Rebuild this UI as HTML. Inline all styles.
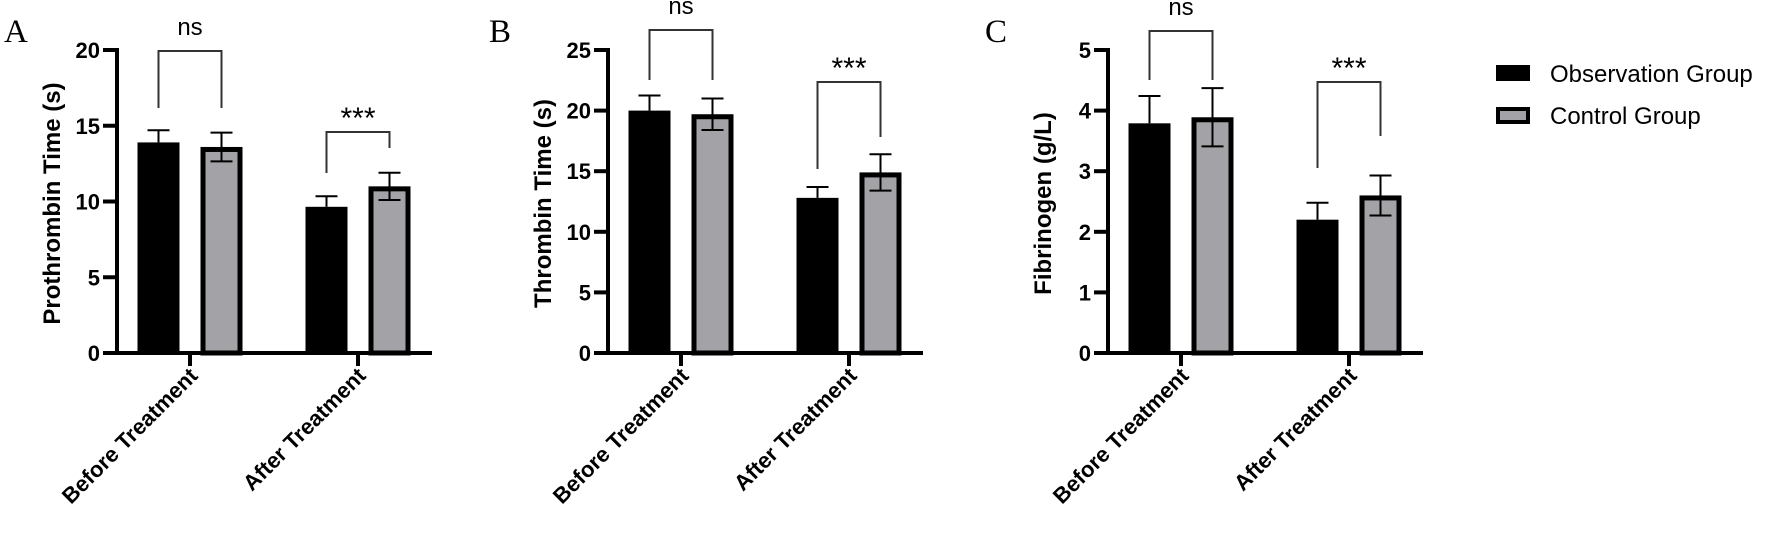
<!DOCTYPE html>
<html><head><meta charset="utf-8"><style>
html,body{margin:0;padding:0;background:#fff;}
svg{display:block;font-family:"Liberation Sans",Arial,sans-serif;}
</style></head><body>
<svg id="fig" width="1772" height="541" viewBox="0 0 1772 541" xmlns="http://www.w3.org/2000/svg">
<g id="legend">
  <g>
    <rect x="1496" y="65" width="34" height="16" fill="#000"/>
    <text x="1550" y="82" font-size="24">Observation Group</text>
  </g>
  <g>
    <rect x="1498" y="109" width="30" height="13" fill="#a3a3a7" stroke="#000" stroke-width="4"/>
    <text x="1550" y="124" font-size="24">Control Group</text>
  </g>
</g>
</svg>
<script>
const categories = ["Before Treatment", "After Treatment"];
const series = ["Observation Group", "Control Group"];
const ptObs = [13.9, 9.65];
const ptObsErr = [0.8, 0.7];
const ptCtrl = [13.6, 11.0];
const ptCtrlErr = [0.95, 0.9];
const ptTicks = [0, 5, 10, 15, 20];
const ttObs = [20.0, 12.8];
const ttObsErr = [1.25, 0.9];
const ttCtrl = [19.7, 14.9];
const ttCtrlErr = [1.3, 1.5];
const ttTicks = [0, 5, 10, 15, 20, 25];
const fibObs = [3.79, 2.2];
const fibObsErr = [0.45, 0.28];
const fibCtrl = [3.89, 2.6];
const fibCtrlErr = [0.48, 0.33];
const fibTicks = [0, 1, 2, 3, 4, 5];
const sigLabels = ["ns", "***"];

const NS = "http://www.w3.org/2000/svg";
const svg = document.getElementById('fig');
function mk(tag, attrs, parent, txt){
  const e = document.createElementNS(NS, tag);
  for (const k in attrs) e.setAttribute(k, attrs[k]);
  if (txt !== undefined) e.textContent = txt;
  parent.appendChild(e);
  return e;
}

function panel(cfg){
  const g = mk('g', {}, svg);
  
  
  const ax = cfg.axisX, y0 = 353, yTop = 50;
  const ymax = cfg.ticks[cfg.ticks.length-1];
  const yS = v => y0 - (v / ymax) * (y0 - yTop);
  const groupW = 168;
  const xC = i => ax + 73 + i * groupW;
  const barW = 42, off = 31.5;

  const letter = mk('text', {x: cfg.letterX, y: 42, 'font-size': 33, 'font-family': '"Liberation Serif",serif'}, g, cfg.letter);
  
  

  for (let i = 0; i < categories.length; i++){
    const vo = cfg.obs[i], vc = cfg.ctrl[i];
    const xo = xC(i) - off, xc = xC(i) + off;
    const eo = mk('g', {stroke: '#000', 'stroke-width': 2}, g);
    
    
    mk('line', {x1: xo, x2: xo, y1: yS(vo), y2: yS(vo + cfg.obsErr[i])}, eo);
    mk('line', {x1: xo - 11, x2: xo + 11, y1: yS(vo + cfg.obsErr[i]), y2: yS(vo + cfg.obsErr[i])}, eo);
    const bo = mk('rect', {x: xo - barW/2, y: yS(vo), width: barW, height: y0 - yS(vo), fill: '#000'}, g);
    
    
    const ec = mk('g', {stroke: '#000', 'stroke-width': 2}, g);
    
    
    mk('line', {x1: xc, x2: xc, y1: yS(vc - cfg.ctrlErr[i]), y2: yS(vc + cfg.ctrlErr[i])}, ec);
    mk('line', {x1: xc - 11, x2: xc + 11, y1: yS(vc + cfg.ctrlErr[i]), y2: yS(vc + cfg.ctrlErr[i])}, ec);
    const bc = mk('rect', {x: xc - barW/2 + 2.5, y: yS(vc) + 2.5, width: barW - 5, height: y0 - yS(vc) - 2.5, fill: '#a3a3a7', stroke: '#000', 'stroke-width': 5}, g);
    
    
    const ec2 = mk('g', {stroke: '#000', 'stroke-width': 2}, g);
    mk('line', {x1: xc, x2: xc, y1: yS(vc), y2: yS(vc - cfg.ctrlErr[i])}, ec2);
    mk('line', {x1: xc - 11, x2: xc + 11, y1: yS(vc - cfg.ctrlErr[i]), y2: yS(vc - cfg.ctrlErr[i])}, ec2);
  }

  const yAxis = mk('g', {}, g);
  
  
  mk('line', {x1: ax, x2: ax, y1: yTop - 2, y2: y0 + 2, stroke: '#000', 'stroke-width': 4}, yAxis);
  cfg.ticks.forEach(t => {
    mk('line', {x1: ax - 14, x2: ax, y1: yS(t), y2: yS(t), stroke: '#000', 'stroke-width': 4}, yAxis);
    const tl = mk('text', {x: ax - 17, y: yS(t) + 8, 'font-size': 22, 'font-weight': 'bold', 'text-anchor': 'end'}, yAxis, String(t));
    
    
  });
  const yt = mk('text', {x: 0, y: 0, 'font-size': 24, 'font-weight': 'bold', 'text-anchor': 'middle', transform: `translate(${ax - 57},${(y0 + yTop) / 2 + 2}) rotate(-90)`}, g, cfg.title);
  
  

  const xAxis = mk('g', {}, g);
  
  
  mk('line', {x1: ax - 14, x2: ax + 315, y1: y0, y2: y0, stroke: '#000', 'stroke-width': 4}, xAxis);
  categories.forEach((c, i) => {
    mk('line', {x1: xC(i), x2: xC(i), y1: y0, y2: y0 + 13, stroke: '#000', 'stroke-width': 4}, xAxis);
    const xl = mk('text', {x: 0, y: 0, 'font-size': 22, 'font-weight': 'bold', 'text-anchor': 'end', transform: `translate(${xC(i) + 9},${y0 + 24}) rotate(-45)`}, xAxis, c);
    
    
  });

  cfg.brackets.forEach((b, i) => {
    const bg = mk('g', {}, g);
    
    
    const xl = xC(i) - off, xr = xC(i) + off;
    mk('polyline', {points: `${xl},${b.yl} ${xl},${b.top} ${xr},${b.top} ${xr},${b.yr}`, fill: 'none', stroke: '#333', 'stroke-width': 2}, bg);
    const st = mk('text', {x: xC(i), y: b.top - (sigLabels[i] === 'ns' ? 16 : 4), 'font-size': sigLabels[i] === 'ns' ? 24 : 30, 'text-anchor': 'middle'}, bg, sigLabels[i]);
    
    
  });
}

panel({id: 'prothrombin', letter: 'A', letterX: 4, axisX: 117, title: 'Prothrombin Time (s)', ticks: ptTicks,
  obs: ptObs, obsErr: ptObsErr, ctrl: ptCtrl, ctrlErr: ptCtrlErr,
  brackets: [{top: 51, yl: 108, yr: 108}, {top: 132, yl: 173, yr: 148}]});
panel({id: 'thrombin', letter: 'B', letterX: 489, axisX: 608, title: 'Thrombin Time (s)', ticks: ttTicks,
  obs: ttObs, obsErr: ttObsErr, ctrl: ttCtrl, ctrlErr: ttCtrlErr,
  brackets: [{top: 30, yl: 80, yr: 80}, {top: 82, yl: 169, yr: 137}]});
panel({id: 'fibrinogen', letter: 'C', letterX: 985, axisX: 1108, title: 'Fibrinogen (g/L)', ticks: fibTicks,
  obs: fibObs, obsErr: fibObsErr, ctrl: fibCtrl, ctrlErr: fibCtrlErr,
  brackets: [{top: 31, yl: 80, yr: 80}, {top: 82, yl: 168, yr: 136}]});
</script>
</body></html>
